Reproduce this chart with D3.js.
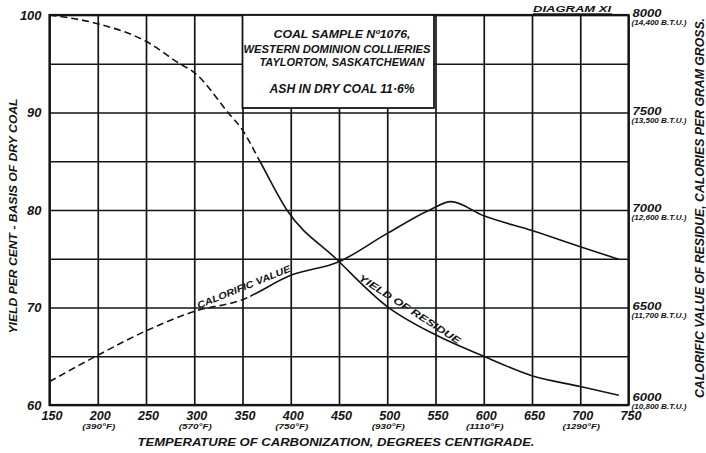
<!DOCTYPE html>
<html>
<head>
<meta charset="utf-8">
<script src="https://cdn.jsdelivr.net/npm/d3@7"></script>
<style>
  html, body { margin: 0; padding: 0; background: #fff; }
  svg { display: block; }
  text {
    font-family: "Liberation Sans", Arial, sans-serif;
    font-style: italic;
    font-weight: bold;
    fill: #141414;
  }
</style>
</head>
<body>
<svg id="chart" width="706" height="453"></svg>
<script>
// ---- data -------------------------------------------------------------
// Temperature axis (degrees centigrade) and the Fahrenheit equivalents shown under some ticks
const tempTicks = [150, 200, 250, 300, 350, 400, 450, 500, 550, 600, 650, 700, 750];
const fahrTemps = [200, 300, 400, 500, 600, 700];
const fahrLabels = ["(390°F)", "(570°F)", "(750°F)", "(930°F)", "(1110°F)", "(1290°F)"];

// Left axis: yield, per cent of dry coal
const yieldGrid = [60, 65, 70, 75, 80, 85, 90, 95, 100];
const yieldTicks = [60, 70, 80, 90, 100];

// Right axis: calorific value, calories per gram (with B.T.U. per lb.)
const calTicks = [6000, 6500, 7000, 7500, 8000];
const btuLabels = ["(10,800 B.T.U.)", "(11,700 B.T.U.)", "(12,600 B.T.U.)", "(13,500 B.T.U.)", "(14,400 B.T.U.)"];

// Yield of residue
const yieldTemps = [150, 200, 250, 285, 300, 335, 350, 368, 396, 447, 500, 550, 600, 650, 700, 740];
const yieldPct   = [100, 99.1, 97.3, 95, 94.1, 90, 88.2, 85, 80, 75, 70.1, 67.2, 65, 63, 61.9, 61.0];

// Calorific value of residue
const calTemps  = [150, 200, 250, 300, 350, 400, 450, 500, 544, 566, 600, 650, 700, 740];
const calValues = [6120, 6255, 6380, 6480, 6540, 6665, 6735, 6880, 7000, 7043, 6970, 6895, 6812, 6747];

// Below these temperatures the curves are drawn dashed
const yieldDashEnd = 366;
const calDashEnd = 358;

// ---- layout -----------------------------------------------------------
const plotLeft = 49.5, plotRight = 628.5, plotTop = 15, plotBottom = 405;
const ink = "#141414";

const svg = d3.select("#chart");

const x = d3.scaleLinear().domain([150, 750]).range([plotLeft, plotRight]);
const yL = d3.scaleLinear().domain([60, 100]).range([plotBottom, plotTop]);
const yR = d3.scaleLinear().domain([6000, 8000]).range([plotBottom, plotTop]);

// ---- grid ---------------------------------------------------------------
const vGrid = svg.append("g")
  .attr("transform", `translate(0,${plotBottom})`)
  .call(d3.axisBottom(x).tickValues(tempTicks).tickSize(-(plotBottom - plotTop)).tickFormat(""));
vGrid.select(".domain").remove();
vGrid.selectAll("line").attr("stroke", ink).attr("stroke-width", 1.7);

const hGrid = svg.append("g")
  .attr("transform", `translate(${plotLeft},0)`)
  .call(d3.axisLeft(yL).tickValues(yieldGrid).tickSize(-(plotRight - plotLeft)).tickFormat(""));
hGrid.select(".domain").remove();
hGrid.selectAll("line").attr("stroke", ink).attr("stroke-width", 1.7);

// heavier frame
svg.append("rect")
  .attr("x", plotLeft).attr("y", plotTop)
  .attr("width", plotRight - plotLeft).attr("height", plotBottom - plotTop)
  .attr("fill", "none").attr("stroke", ink).attr("stroke-width", 2.2);

// ---- axes labels --------------------------------------------------------
const bottomAxis = svg.append("g")
  .attr("transform", `translate(0,${plotBottom})`)
  .call(d3.axisBottom(x).tickValues(tempTicks).tickSize(0).tickPadding(6).tickFormat(d3.format("d")));
bottomAxis.select(".domain").remove();
bottomAxis.selectAll("text")
  .attr("dx", 2)
  .attr("dy", "0.72em")
  .attr("textLength", 21)
  .attr("lengthAdjust", "spacingAndGlyphs")
  .style("font-size", "12px")
  .style("font-family", "Liberation Sans, Arial, sans-serif");

svg.append("g").selectAll("text")
  .data(fahrTemps)
  .join("text")
  .attr("x", (d) => x(d) + 1)
  .attr("y", 429)
  .attr("text-anchor", "middle")
  .attr("textLength", (d, i) => fahrLabels[i].length * 4.7)
  .attr("lengthAdjust", "spacingAndGlyphs")
  .style("font-size", "7.5px")
  .text((d, i) => fahrLabels[i]);

const leftAxis = svg.append("g")
  .attr("transform", `translate(${plotLeft},0)`)
  .call(d3.axisLeft(yL).tickValues(yieldTicks).tickSize(0).tickPadding(8));
leftAxis.select(".domain").remove();
leftAxis.selectAll("text")
  .attr("textLength", (d) => String(d).length * 7.2)
  .attr("lengthAdjust", "spacingAndGlyphs")
  .style("font-size", "12.5px")
  .style("font-family", "Liberation Sans, Arial, sans-serif");

// right-hand labels sit just above their grid line; the lowest is lifted clear of the temperature labels
const rightLift = (d) => (d === 6000 ? 8 : 2);
const rightAxis = svg.append("g")
  .attr("transform", `translate(${plotRight},0)`)
  .call(d3.axisRight(yR).tickValues(calTicks).tickSize(0).tickPadding(4).tickFormat(d3.format("d")));
rightAxis.select(".domain").remove();
rightAxis.selectAll("text")
  .attr("y", (d) => -rightLift(d))
  .attr("textLength", 29)
  .attr("lengthAdjust", "spacingAndGlyphs")
  .style("font-size", "11.5px")
  .style("font-family", "Liberation Sans, Arial, sans-serif");

svg.append("g").selectAll("text")
  .data(calTicks)
  .join("text")
  .attr("x", plotRight + 3)
  .attr("y", (d) => yR(d) + 12 - rightLift(d))
  .attr("textLength", 55)
  .attr("lengthAdjust", "spacingAndGlyphs")
  .style("font-size", "7.5px")
  .text((d, i) => btuLabels[i]);

// axis titles
svg.append("text")
  .attr("transform", "translate(336,445.5)")
  .attr("text-anchor", "middle")
  .attr("textLength", 397)
  .attr("lengthAdjust", "spacingAndGlyphs")
  .style("font-size", "11.5px")
  .text("TEMPERATURE OF CARBONIZATION, DEGREES CENTIGRADE.");

svg.append("text")
  .attr("transform", "translate(16.5,216) rotate(-90)")
  .attr("text-anchor", "middle")
  .attr("textLength", 235)
  .attr("lengthAdjust", "spacingAndGlyphs")
  .style("font-size", "11.5px")
  .text("YIELD PER CENT - BASIS OF DRY COAL");

svg.append("text")
  .attr("transform", "translate(703.5,208) rotate(-90)")
  .attr("text-anchor", "middle")
  .attr("textLength", 380)
  .attr("lengthAdjust", "spacingAndGlyphs")
  .style("font-size", "12px")
  .text("CALORIFIC VALUE OF RESIDUE, CALORIES PER GRAM GROSS.");

// ---- curves -------------------------------------------------------------
const defs = svg.append("defs");
function addClip(id, x0, x1) {
  defs.append("clipPath").attr("id", id)
    .append("rect").attr("x", x0).attr("y", 0).attr("width", x1 - x0).attr("height", 453);
}
addClip("yieldDash", 0, x(yieldDashEnd));
addClip("yieldSolid", x(yieldDashEnd), 706);
addClip("calDash", 0, x(calDashEnd));
addClip("calSolid", x(calDashEnd), 706);

const yieldData = yieldTemps.map((t, i) => [t, yieldPct[i]]);
const calData = calTemps.map((t, i) => [t, calValues[i]]);

const yieldLine = d3.line().x((d) => x(d[0])).y((d) => yL(d[1])).curve(d3.curveMonotoneX);
const calLine = d3.line().x((d) => x(d[0])).y((d) => yR(d[1])).curve(d3.curveMonotoneX);

function drawCurve(data, gen, dashClip, solidClip) {
  svg.append("path").datum(data)
    .attr("d", gen)
    .attr("clip-path", `url(#${dashClip})`)
    .attr("fill", "none").attr("stroke", ink).attr("stroke-width", 1.6)
    .attr("stroke-dasharray", "7,4");
  svg.append("path").datum(data)
    .attr("d", gen)
    .attr("clip-path", `url(#${solidClip})`)
    .attr("fill", "none").attr("stroke", ink).attr("stroke-width", 1.6);
}
drawCurve(yieldData, yieldLine, "yieldDash", "yieldSolid");
drawCurve(calData, calLine, "calDash", "calSolid");

// curve names written along the lines
svg.append("text")
  .attr("transform", "translate(245,290) rotate(-22)")
  .attr("text-anchor", "middle")
  .attr("textLength", 100)
  .attr("lengthAdjust", "spacingAndGlyphs")
  .style("font-size", "9.5px")
  .text("CALORIFIC VALUE");

svg.append("text")
  .attr("transform", "translate(408,312) rotate(33)")
  .attr("text-anchor", "middle")
  .attr("textLength", 119)
  .attr("lengthAdjust", "spacingAndGlyphs")
  .style("font-size", "9.5px")
  .text("YIELD OF RESIDUE");

// ---- sample description box ---------------------------------------------
svg.append("rect")
  .attr("x", 242.5).attr("y", plotTop)
  .attr("width", 191.5).attr("height", 93)
  .attr("fill", "#fff").attr("stroke", ink).attr("stroke-width", 1.8);

const boxLines = [
  { t: "COAL SAMPLE Nº1076,", y: 37.5, w: 137 },
  { t: "WESTERN DOMINION COLLIERIES", y: 53, w: 187 },
  { t: "TAYLORTON, SASKATCHEWAN", y: 66, w: 165 },
  { t: "ASH IN DRY COAL 11·6%", y: 93, w: 145 }
];
svg.append("g").selectAll("text")
  .data(boxLines)
  .join("text")
  .attr("x", (d, i) => (i === 1 ? 337 : 342))
  .attr("y", (d) => d.y)
  .attr("text-anchor", "middle")
  .attr("textLength", (d) => d.w)
  .attr("lengthAdjust", "spacingAndGlyphs")
  .style("font-size", (d, i) => (i === 3 ? "12px" : "11px"))
  .text((d) => d.t);

// diagram number, top right
svg.append("text")
  .attr("x", 533).attr("y", 12)
  .attr("textLength", 78)
  .attr("lengthAdjust", "spacingAndGlyphs")
  .style("font-size", "9.5px")
  .text("DIAGRAM XI");
svg.append("line")
  .attr("x1", 533).attr("x2", 612).attr("y1", 13.8).attr("y2", 13.8)
  .attr("stroke", ink).attr("stroke-width", 1);
</script>
</body>
</html>
